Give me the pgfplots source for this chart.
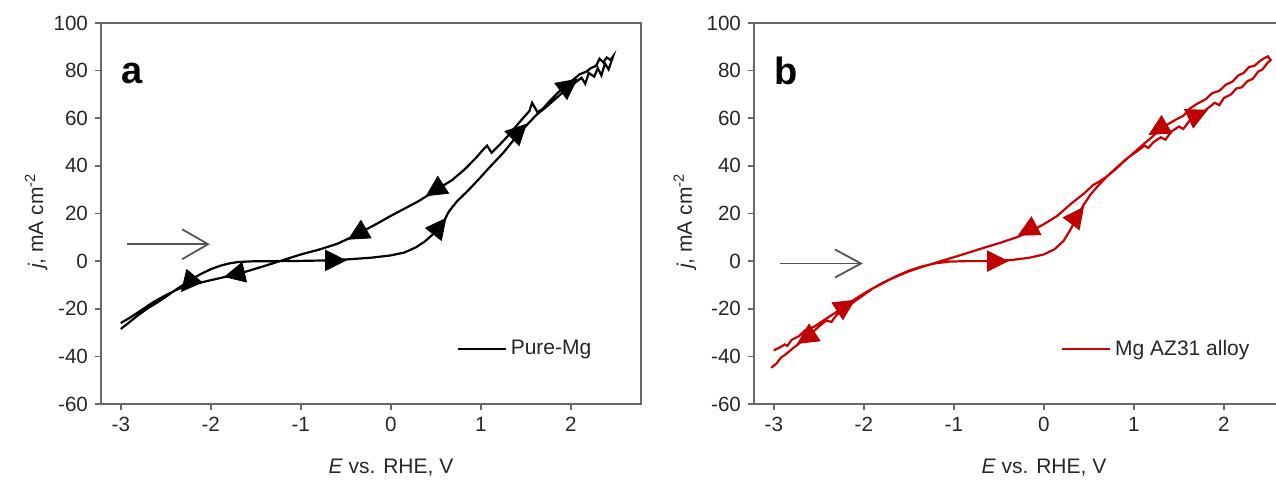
\documentclass[border=0pt]{standalone}
\usepackage{fontspec}
\setmainfont{Liberation Sans}
\usepackage{pgfplots}
\pgfplotsset{compat=1.18}
\usetikzlibrary{arrows.meta}
\definecolor{axgray}{RGB}{105,105,105}
\definecolor{myred}{RGB}{204,0,0}
\definecolor{trired}{RGB}{190,0,0}
\definecolor{arrgray}{RGB}{85,85,85}
\newcommand{\tri}[4]{\addplot[forget plot, only marks, mark=triangle*, mark size=5.8pt, color=#4, mark options={rotate=#3, yscale=1.15, solid}] coordinates {(#1,#2)};}
\pgfplotsset{
 cvstyle/.style={
  scale only axis, width=270pt, height=190.5pt,
  xmin=-3.22, xmax=2.78, ymin=-60, ymax=100,
  xtick={-3,-2,-1,0,1,2}, ytick={-60,-40,-20,0,20,40,60,80,100},
  tick align=outside, xtick pos=left, ytick pos=left,
  major tick length=3pt,
  axis line style={axgray, line width=0.9pt},
  every tick/.style={axgray, line width=0.8pt},
  /pgf/number format/assume math mode=true,
  ticklabel style={font=\fontsize{10.3}{12}\selectfont, text=black!85},
  label style={font=\fontsize{10.5}{12}\selectfont, text=black!85},
  xlabel={\textit{E} vs. RHE, V},
  ylabel={\textit{j}, mA cm\textsuperscript{-2}},
  xlabel style={at={(axis description cs:0.537,-0.168)}, anchor=center},
  ylabel style={at={(axis description cs:-0.12,0.48)}, anchor=center},
  legend style={draw=none, fill=none, font=\fontsize{10.5}{12}\selectfont, anchor=west, text=black!85},
  legend image code/.code={\draw[#1] (0pt,0pt) -- (24pt,0pt);},
 }
}
\begin{document}
\begin{tikzpicture}
\useasboundingbox (0,0) rectangle (638pt,240.5pt);
\clip (0,0) rectangle (638pt,240.5pt);
% ---------------- panel a
\begin{axis}[cvstyle, at={(50.5pt,38.5pt)}, anchor=south west,
  legend style={at={(axis cs:0.66,-37)}}]
\addplot[black, line width=1.1pt] coordinates {
(-3.00,-28.5) (-2.90,-25.5) (-2.80,-22.5) (-2.70,-19.8) (-2.60,-17.5) (-2.50,-15.0)
(-2.40,-12.3) (-2.30,-9.8) (-2.20,-7.3) (-2.10,-5.2) (-2.00,-3.4) (-1.90,-2.0)
(-1.80,-1.0) (-1.70,-0.4) (-1.55,-0.1) (-1.30,0.0) (-1.00,0.1) (-0.70,0.3)
(-0.45,0.8) (-0.20,1.5) (0.00,2.4) (0.15,3.6) (0.28,5.8) (0.38,8.3) (0.46,11.0)
(0.54,14.2) (0.60,17.5) (0.64,20.5) (0.68,22.5) (0.74,25.3) (0.85,29.3) (0.98,34.5)
(1.10,39.5) (1.25,45.5) (1.40,52.5) (1.52,57.5) (1.62,61.5) (1.72,64.5) (1.84,68.5)
(1.96,72.5) (2.05,75.0) (2.12,77.0) (2.16,74.5) (2.20,79.0) (2.26,77.5) (2.30,81.0)
(2.34,78.0) (2.38,83.0) (2.42,80.5) (2.47,86.0)
(2.44,84.5) (2.40,85.5) (2.36,83.5) (2.32,85.0) (2.28,82.0) (2.22,81.0) (2.17,79.5)
(2.10,78.5) (2.02,76.0) (1.94,73.5) (1.85,70.5) (1.76,67.0) (1.69,64.0) (1.63,62.5)
(1.57,66.5) (1.54,63.0) (1.48,60.5) (1.40,57.0) (1.30,52.5) (1.20,48.5) (1.12,45.5)
(1.07,48.5) (1.03,47.0) (0.95,43.5) (0.82,38.5) (0.68,34.0) (0.55,31.0) (0.45,28.5)
(0.30,25.0) (0.15,22.0) (0.00,19.0) (-0.15,15.8) (-0.30,12.8) (-0.45,9.8) (-0.60,7.2)
(-0.80,4.8) (-1.00,2.8) (-1.20,0.4) (-1.40,-2.0) (-1.60,-4.3) (-1.80,-6.3) (-2.00,-8.0)
(-2.20,-9.8) (-2.35,-11.5) (-2.50,-14.3) (-2.65,-17.5) (-2.80,-21.3) (-2.90,-23.8) (-3.00,-26.0)
};
\addlegendentry{Pure-Mg}
\tri{-2.23}{-8.4}{140}{black}
\tri{-0.65}{0.3}{-90}{black}
\tri{0.52}{13.5}{-38}{black}
\tri{1.40}{53.5}{-45}{black}
\tri{1.95}{73}{-53}{black}
\tri{0.52}{30.5}{123}{black}
\tri{-0.34}{12}{120}{black}
\tri{-1.70}{-5.3}{103}{black}
\addplot[forget plot, arrgray, line width=0.9pt, -{Straight Barb[length=13pt,width=15pt,line width=0.9pt]}] coordinates {(-2.93,7.1) (-2.01,7.1)};
\node[font=\bfseries\fontsize{19}{20}\selectfont] at (axis cs:-2.87,79) {a};
\end{axis}
% ---------------- panel b
\begin{axis}[cvstyle, at={(377pt,38.5pt)}, anchor=south west,
  ylabel style={at={(axis description cs:-0.128,0.48)}},
  legend style={at={(axis cs:0.12,-37)}}]
\addplot[myred, line width=1.1pt] coordinates {
(-3.00,-37.5) (-2.92,-36.0) (-2.88,-35.0) (-2.85,-35.6) (-2.80,-33.0) (-2.72,-31.5) (-2.65,-29.0)
(-2.55,-27.5) (-2.45,-25.0) (-2.35,-22.5) (-2.23,-19.5) (-2.10,-16.0) (-1.95,-12.5)
(-1.80,-9.3) (-1.65,-6.5) (-1.50,-4.0) (-1.35,-2.2) (-1.20,-0.9) (-1.05,-0.2)
(-0.85,0.0) (-0.55,0.0) (-0.35,0.5) (-0.15,1.5) (0.00,2.8) (0.12,5.0) (0.22,8.5)
(0.30,13.5) (0.36,18.0) (0.44,23.5) (0.52,28.0) (0.60,31.5) (0.70,35.5) (0.80,39.0)
(0.92,43.0) (1.05,46.5) (1.12,48.5) (1.16,47.5) (1.22,50.0) (1.30,52.0) (1.35,51.0)
(1.42,54.5) (1.50,56.5) (1.55,55.5) (1.62,59.0) (1.70,61.0) (1.80,63.5) (1.90,66.5)
(1.95,65.5) (2.00,68.5) (2.08,70.0) (2.14,72.5) (2.20,73.0) (2.26,75.5) (2.32,76.5)
(2.38,79.5) (2.43,80.5) (2.48,83.0)
(2.52,84.5) (2.49,86.0) (2.44,85.0) (2.40,84.0) (2.34,82.0) (2.28,81.5) (2.22,79.0)
(2.16,78.0) (2.10,75.5) (2.02,74.0) (1.95,71.5) (1.87,70.5) (1.80,68.0) (1.70,66.0)
(1.62,64.0) (1.55,61.0) (1.47,59.5) (1.38,57.5) (1.28,55.0) (1.20,52.0) (1.12,49.5)
(1.00,45.5) (0.88,41.5) (0.78,38.0) (0.70,35.5) (0.62,33.5) (0.55,32.0) (0.45,28.5)
(0.30,24.0) (0.15,19.0) (0.00,15.5) (-0.15,12.5) (-0.30,10.0) (-0.50,7.5) (-0.70,5.2)
(-0.90,2.8) (-1.10,0.5) (-1.30,-1.8) (-1.50,-4.3) (-1.70,-7.5) (-1.90,-11.5) (-2.05,-15.5)
(-2.20,-19.5) (-2.30,-22.5) (-2.36,-25.5) (-2.42,-25.0) (-2.50,-27.5) (-2.60,-31.0)
(-2.70,-34.0) (-2.80,-37.0) (-2.88,-39.5) (-2.92,-40.5) (-2.97,-43.0) (-3.03,-44.8)
};
\addlegendentry{Mg AZ31 alloy}
\tri{-2.23}{-19.5}{-57}{trired}
\tri{-0.55}{0}{-90}{trired}
\tri{0.35}{18}{-37}{trired}
\tri{1.68}{61}{-65}{trired}
\tri{-2.61}{-31.5}{123}{trired}
\tri{-0.15}{13.5}{118}{trired}
\tri{1.30}{56}{120}{trired}
\addplot[forget plot, arrgray, line width=0.9pt, -{Straight Barb[length=13pt,width=14pt,line width=0.9pt]}] coordinates {(-2.93,-1) (-2.01,-1)};
\node[font=\bfseries\fontsize{19}{20}\selectfont] at (axis cs:-2.86,80) {b};
\end{axis}
\end{tikzpicture}
\end{document}
